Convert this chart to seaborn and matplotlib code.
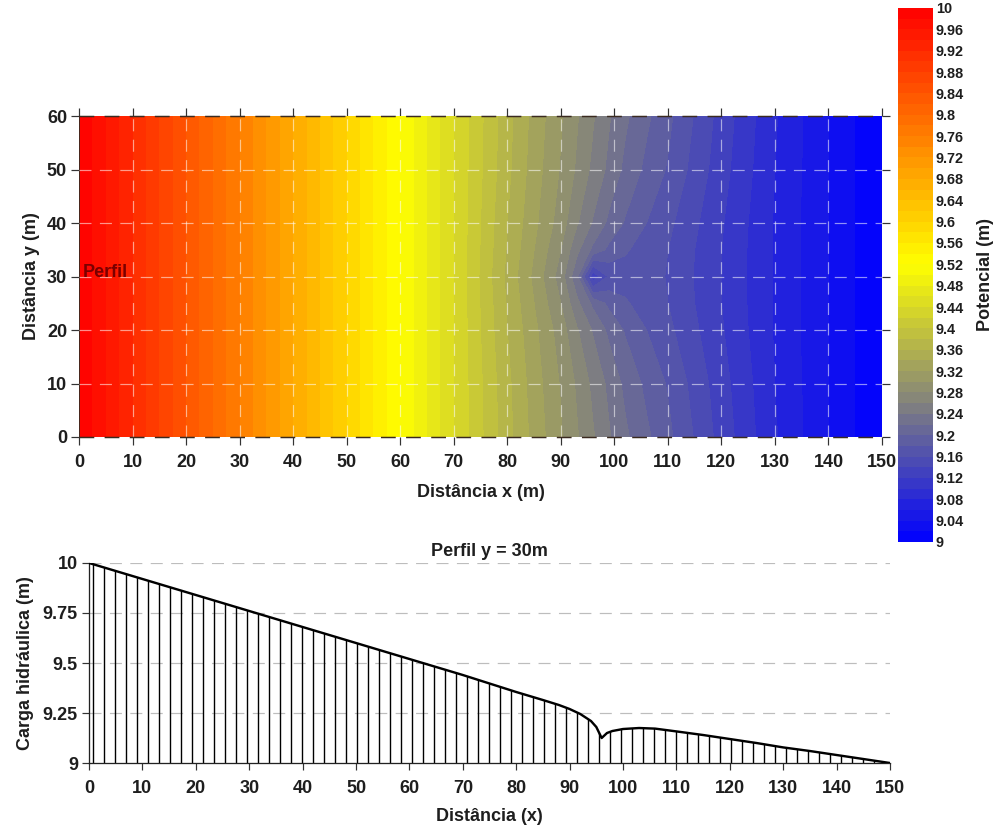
import numpy as np
import pandas as pd
import matplotlib
matplotlib.use("Agg")
import matplotlib.pyplot as plt
from matplotlib.colors import LinearSegmentedColormap
import seaborn as sns

# ---------------- data ----------------
# Profile y = 30 m
profile_x = [0, 10, 20, 30, 40, 50, 60, 70, 80, 85, 88, 90, 92, 94, 95, 96, 97,
             98, 100, 103, 106, 110, 115, 120, 125, 130, 135, 140, 145, 150]
profile_h = [10.0, 9.92, 9.84, 9.76, 9.68, 9.60, 9.52, 9.44, 9.355, 9.315, 9.29,
             9.27, 9.245, 9.21, 9.18, 9.125, 9.15, 9.16, 9.17, 9.175, 9.172,
             9.158, 9.14, 9.12, 9.10, 9.078, 9.06, 9.04, 9.02, 9.0]

# Potential map, rows by y
grid_x = [0, 20, 40, 60, 70, 80, 85, 90, 93, 96, 99, 102, 106, 110, 120, 130, 140, 150]
grid_y = [0, 10, 20, 25, 30, 35, 40, 50, 60]
row_y0 = [10.0, 9.84, 9.68, 9.52, 9.44, 9.367, 9.333, 9.302, 9.282, 9.262, 9.242, 9.224, 9.204, 9.185, 9.132, 9.082, 9.04, 9.0]
row_y10 = [10.0, 9.84, 9.68, 9.52, 9.44, 9.365, 9.33, 9.298, 9.277, 9.255, 9.235, 9.215, 9.195, 9.178, 9.128, 9.08, 9.04, 9.0]
row_y20 = [10.0, 9.84, 9.68, 9.52, 9.44, 9.36, 9.325, 9.29, 9.262, 9.238, 9.215, 9.198, 9.18, 9.165, 9.122, 9.078, 9.04, 9.0]
row_y25 = [10.0, 9.84, 9.68, 9.52, 9.44, 9.358, 9.32, 9.28, 9.245, 9.215, 9.195, 9.182, 9.173, 9.16, 9.12, 9.078, 9.04, 9.0]
row_y30 = [10.0, 9.84, 9.68, 9.52, 9.44, 9.355, 9.315, 9.27, 9.225, 9.125, 9.163, 9.173, 9.172, 9.158, 9.12, 9.078, 9.04, 9.0]
row_y35 = row_y25
row_y40 = row_y20
row_y50 = row_y10
row_y60 = row_y0

cbar_ticks = [9.0, 9.04, 9.08, 9.12, 9.16, 9.2, 9.24, 9.28, 9.32, 9.36, 9.4, 9.44,
              9.48, 9.52, 9.56, 9.6, 9.64, 9.68, 9.72, 9.76, 9.8, 9.84, 9.88,
              9.92, 9.96, 10.0]
x_ticks = list(range(0, 151, 10))
y_ticks_map = list(range(0, 61, 10))
y_ticks_prof = [9.0, 9.25, 9.5, 9.75, 10.0]
y_ticklabels_prof = ["9", "9.25", "9.5", "9.75", "10"]

# ---------------- style ----------------
sns.set_theme(style="white")
plt.rcParams['font.family'] = ['Liberation Sans', 'DejaVu Sans']
plt.rcParams['font.weight'] = 'bold'
plt.rcParams['axes.labelweight'] = 'bold'
plt.rcParams['axes.titleweight'] = 'bold'
plt.rcParams['hatch.linewidth'] = 1.5
plt.rcParams['hatch.color'] = 'black'

TXT = '#1e1e1e'
DPI = 66.5
fig = plt.figure(figsize=(998 / DPI, 830 / DPI), dpi=DPI)
fig.patch.set_facecolor('white')

ax1 = fig.add_axes([0.0792, 0.4735, 0.8046, 0.3867])
cax = fig.add_axes([0.8998, 0.3470, 0.0351, 0.6434])
ax2 = fig.add_axes([0.0892, 0.0807, 0.8026, 0.2410])

# ---------------- map ----------------
Z = np.array([row_y0, row_y10, row_y20, row_y25, row_y30,
              row_y35, row_y40, row_y50, row_y60])
cmap = LinearSegmentedColormap.from_list(
    'pot', [(0.0, (0, 0, 1)),
            (0.25, (125 / 255, 125 / 255, 130 / 255)),
            (0.52, (1, 1, 0)),
            (1.0, (1, 0, 0))])
levels = np.linspace(9.0, 10.0, 51)
cf = ax1.contourf(grid_x, grid_y, Z, levels=levels, cmap=cmap, vmin=9, vmax=10)
ax1.set_xlim(0, 150)
ax1.set_ylim(0, 60)
for xv in x_ticks[1:-1]:
    ax1.axvline(xv, color='white', alpha=0.55, lw=1.3, ls=(0, (10, 7)), zorder=3)
for yv in y_ticks_map[1:-1]:
    ax1.axhline(yv, color='white', alpha=0.55, lw=1.3, ls=(0, (10, 7)), zorder=3)
for yv in (0, 60):
    ax1.axhline(yv, color='#3a2a20', lw=1.6, ls=(0, (10, 7)), zorder=4, clip_on=False)
for s in ('top', 'right', 'bottom'):
    ax1.spines[s].set_visible(False)
ax1.spines['left'].set_color('#3a2a20')
ax1.spines['left'].set_linewidth(1.0)
ax1.set_xticks(x_ticks)
ax1.set_yticks(y_ticks_map)
ax1.tick_params(axis='both', which='major', direction='out', length=9, width=1.3,
                color='#333333', labelsize=19.5, labelcolor=TXT, pad=4,
                top=True, right=True, bottom=True, left=True)
ax1.tick_params(axis='x', pad=9)
ax1.set_xlabel('Distância x (m)', fontsize=19.5, color=TXT, labelpad=14)
ax1.set_ylabel('Distância y (m)', fontsize=19.5, color=TXT, labelpad=8)
ax1.text(0.6, 30, 'Perfil', color='#7a0000', fontsize=19.5, fontweight='bold',
         va='baseline', ha='left', zorder=5)

# ---------------- colorbar ----------------
cb = fig.colorbar(cf, cax=cax, ticks=cbar_ticks)
cb.outline.set_visible(False)
cb.ax.set_yticklabels([f"{v:.2f}".rstrip('0').rstrip('.') for v in cbar_ticks])
cb.ax.tick_params(length=0, labelsize=15.5, labelcolor=TXT, pad=3)
cb.set_label('Potencial (m)', fontsize=19.5, color=TXT, labelpad=14)

# ---------------- profile ----------------
df = pd.DataFrame({'x': profile_x, 'h': profile_h})
ax2.fill_between(df['x'], 9.0, df['h'], facecolor='none', edgecolor='black',
                 hatch='|', linewidth=0, zorder=2)
sns.lineplot(data=df, x='x', y='h', ax=ax2, color='black', lw=2.6, zorder=3)
ax2.set_xlim(0, 150)
ax2.set_ylim(9.0, 10.0)
for yv in y_ticks_prof[1:]:
    ax2.axhline(yv, color='#bdbdbd', lw=1.3, ls=(0, (10, 7)), zorder=1)
for s in ('top', 'right'):
    ax2.spines[s].set_visible(False)
for s in ('left', 'bottom'):
    ax2.spines[s].set_color('#222222')
    ax2.spines[s].set_linewidth(1.4)
ax2.set_xticks(x_ticks)
ax2.set_yticks(y_ticks_prof)
ax2.set_yticklabels(y_ticklabels_prof)
ax2.tick_params(axis='both', which='major', direction='out', length=8, width=1.3,
                color='#333333', labelsize=19.5, labelcolor=TXT, pad=4,
                bottom=True, left=True)
ax2.tick_params(axis='x', pad=10)
ax2.set_xlabel('Distância (x)', fontsize=19.5, color=TXT, labelpad=12)
ax2.set_ylabel('Carga hidráulica (m)', fontsize=19.5, color=TXT, labelpad=10)
ax2.set_title('Perfil y = 30m', fontsize=19.5, color=TXT, pad=8)

fig.savefig('out.png', dpi=DPI, facecolor='white')
